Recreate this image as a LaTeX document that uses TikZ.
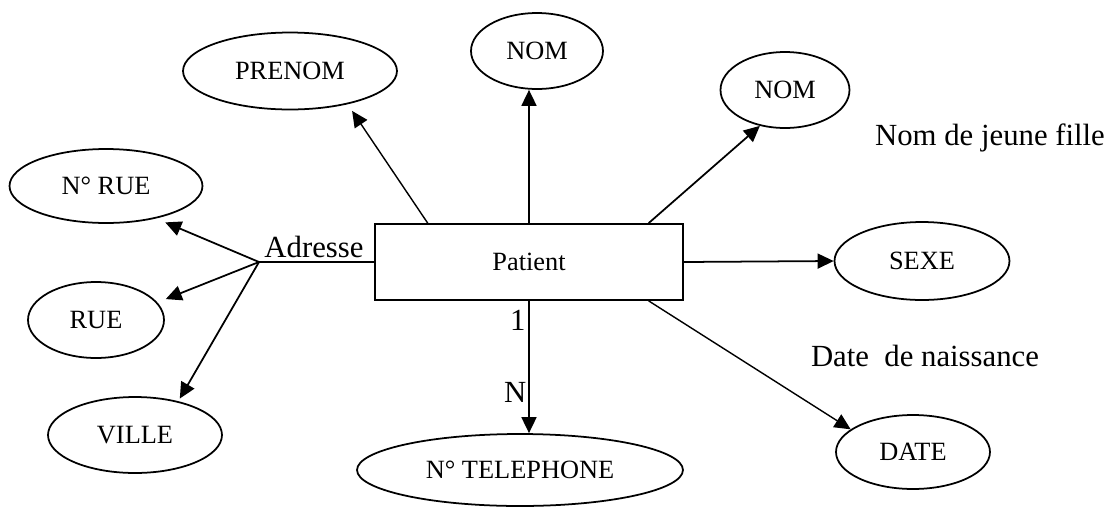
\documentclass[tikz,border=0pt]{standalone}
\usepackage{fontspec}
\setmainfont{Liberation Serif}
\usetikzlibrary{shapes.geometric, arrows.meta}

\begin{document}
\begin{tikzpicture}[x=0.02cm, y=-0.02cm, line width=1pt,
    >={Triangle[length=0.32cm, width=0.3cm]},
    attr/.style={ellipse, draw, inner sep=0pt, font=\fontsize{15}{18}\selectfont},
    big/.style={inner sep=0pt, font=\fontsize{17.5}{21}\selectfont}]
    \useasboundingbox (0,0) rectangle (1117,508);

    \node[draw, minimum width=6.16cm, minimum height=1.52cm, font=\fontsize{15}{18}\selectfont] (pat) at (529,262) {Patient};

    \node[attr, minimum width=4.28cm, minimum height=1.54cm] (prenom) at (290,71) {PRENOM};
    \node[attr, minimum width=2.64cm, minimum height=1.52cm] (nom1) at (537,51) {NOM};
    \node[attr, minimum width=2.58cm, minimum height=1.52cm] (nom2) at (785,90) {NOM};
    \node[attr, minimum width=3.86cm, minimum height=1.48cm] (nrue) at (106,186) {N° RUE};
    \node[attr, minimum width=2.72cm, minimum height=1.52cm] (rue) at (96,320) {RUE};
    \node[attr, minimum width=3.48cm, minimum height=1.52cm] (ville) at (135,435) {VILLE};
    \node[attr, minimum width=6.52cm, minimum height=1.44cm] (tel) at (520,470) {N° TELEPHONE};
    \node[attr, minimum width=3.5cm, minimum height=1.56cm] (sexe) at (922,261) {SEXE};
    \node[attr, minimum width=3.08cm, minimum height=1.48cm] (date) at (913,452) {DATE};

    \node[big, anchor=base] (jf) at (990,145) {Nom de jeune fille};
    \node[big, anchor=base] (dn) at (925,366) {Date\ \ de naissance};

    % adresse
    \coordinate (adr) at (259,262);
    \node[big, anchor=base] (adrlbl) at (314,257) {Adresse};
    \draw (adr) -- (pat.west);
    \draw[->, shorten >=0.2cm] (adr) -- (nrue.-33);
    \draw[->, shorten >=0.18cm] (adr) -- (rue.16);
    \draw[->, shorten >=0.06cm] (adr) -- (ville.38);

    \draw[->, line width=0.8pt, shorten >=0.16cm] (pat.159) -- (prenom.-30);
    \draw[->] (pat.north) -- (pat.north |- nom1.south);
    \draw[->] (pat.18.5) -- (nom2.235);
    \draw[->] (pat.east) -- (sexe.west);
    \draw[->, line width=0.8pt] (pat.-18.5) -- (date.160);
    \draw[->] (pat.south) -- node[big, pos=0.15, left, inner sep=1.5pt] {1}
        node[big, pos=0.69, left, inner sep=1pt] {N} (pat.south |- tel.north);
\end{tikzpicture}
\end{document}
